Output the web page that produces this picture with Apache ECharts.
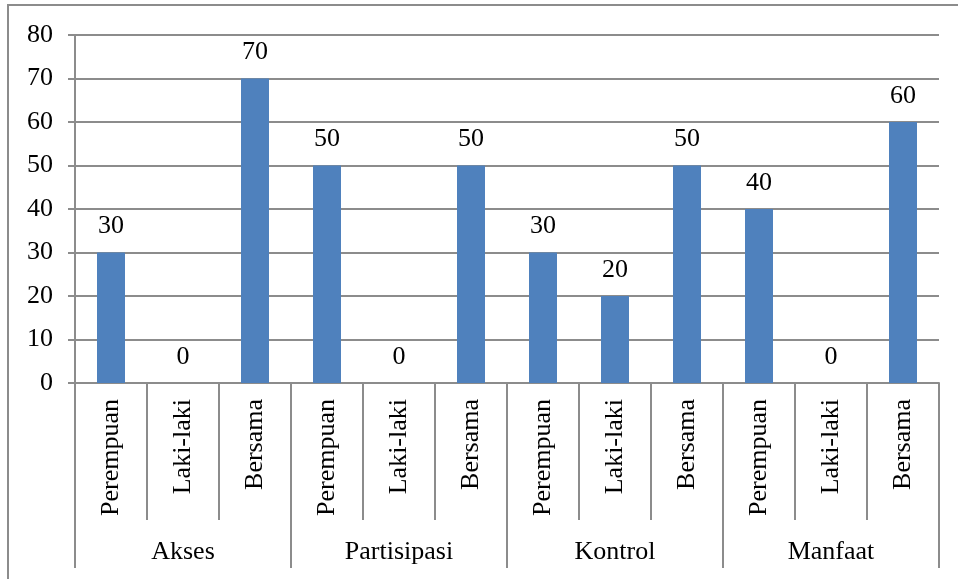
<!DOCTYPE html>
<html>
<head>
<meta charset="utf-8">
<script src="https://cdn.jsdelivr.net/npm/echarts@6/dist/echarts.min.js"></script>
<style>
  html, body { margin: 0; padding: 0; background: #fff; }
  #chart { width: 958px; height: 579px; }
</style>
</head>
<body>
<div id="chart"></div>
<script>
// Sub-categories (one per bar) and their aspect groups
const categories = [
  'Perempuan', 'Laki-laki', 'Bersama',
  'Perempuan', 'Laki-laki', 'Bersama',
  'Perempuan', 'Laki-laki', 'Bersama',
  'Perempuan', 'Laki-laki', 'Bersama'
];
const groups = ['Akses', 'Partisipasi', 'Kontrol', 'Manfaat'];
const values = [30, 0, 70, 50, 0, 50, 30, 20, 50, 40, 0, 60];
const yTicks = [0, 10, 20, 30, 40, 50, 60, 70, 80];

const FONT = '"Liberation Serif", "Times New Roman", serif';
const GRAY = '#8c8c8c';
const LW = 2;

const chart = echarts.init(document.getElementById('chart'));
chart.setOption({
  animation: false,
  backgroundColor: '#ffffff',
  graphic: [{
    type: 'rect',
    shape: { x: 8, y: 5, width: 1200, height: 1200 },
    style: { fill: 'none', stroke: GRAY, lineWidth: 2 },
    silent: true
  }],
  grid: { left: 75, right: 19, top: 35, bottom: 196 },
  xAxis: [{
    type: 'category',
    data: categories,
    position: 'bottom',
    axisLine: { show: true, lineStyle: { color: GRAY, width: LW } },
    axisTick: { show: true, interval: 0, length: 137, lineStyle: { color: GRAY, width: LW } },
    axisLabel: {
      interval: 0, rotate: 90, margin: 16,
      color: '#000', fontFamily: FONT, fontSize: 26
    }
  }, {
    type: 'category',
    data: groups,
    position: 'bottom',
    axisLine: { show: false },
    axisTick: { show: true, interval: 0, length: 185, lineStyle: { color: GRAY, width: LW } },
    axisLabel: {
      interval: 0, margin: 156,
      color: '#000', fontFamily: FONT, fontSize: 26
    }
  }],
  yAxis: {
    type: 'value',
    min: yTicks[0],
    max: yTicks[yTicks.length - 1],
    interval: 10,
    axisLine: { show: true, lineStyle: { color: GRAY, width: LW } },
    axisTick: { show: true, length: 7, lineStyle: { color: GRAY, width: LW } },
    splitLine: { show: true, lineStyle: { color: GRAY, width: LW } },
    axisLabel: { margin: 22, color: '#000', fontFamily: FONT, fontSize: 26 }
  },
  series: [{
    type: 'bar',
    xAxisIndex: 0,
    data: values,
    barWidth: 28,
    itemStyle: { color: '#4F81BD' },
    label: {
      show: true, position: 'top', distance: 13,
      color: '#000', fontFamily: FONT, fontSize: 26
    }
  }]
});
</script>
</body>
</html>
